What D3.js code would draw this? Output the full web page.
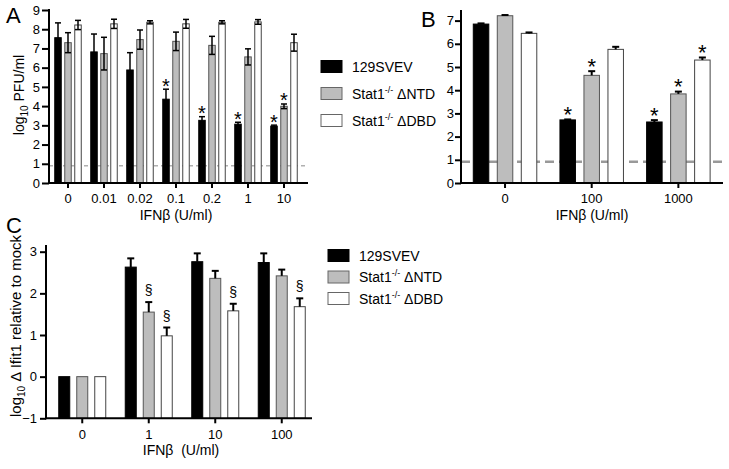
<!DOCTYPE html>
<html><head><meta charset="utf-8">
<script src="https://cdn.jsdelivr.net/npm/d3@7"></script>
<style>
body{margin:0;background:#fff;}
svg{display:block;font-family:"Liberation Sans",Arial,Helvetica,sans-serif;}
</style></head>
<body><svg id="chart" width="729" height="469"></svg>
<script>
// ---------- data ----------
const seriesNames = ["129SVEV", "Stat1", "Stat1"];
const seriesSuffix = ["", "ΔNTD", "ΔDBD"];

const doseA = ["0", "0.01", "0.02", "0.1", "0.2", "1", "10"];
const wtA = [7.56, 6.82, 5.88, 4.36, 3.26, 3.06, 2.96];
const wtAErr = [0.77, 0.93, 0.9, 0.52, 0.19, 0.1, 0.05];
const ntdA = [7.30, 6.73, 7.46, 7.37, 7.16, 6.56, 3.99];
const ntdAErr = [0.52, 0.85, 0.5, 0.48, 0.47, 0.42, 0.12];
const dbdA = [8.22, 8.28, 8.36, 8.28, 8.36, 8.38, 7.30];
const dbdAErr = [0.24, 0.24, 0.08, 0.23, 0.08, 0.12, 0.44];
const wtASig = [0, 0, 0, 1, 1, 1, 1];
const ntdASig = [0, 0, 0, 0, 0, 0, 1];
const dbdASig = [0, 0, 0, 0, 0, 0, 0];
const ticksA = [0, 1, 2, 3, 4, 5, 6, 7, 8, 9];
const limitA = 0.9;

const doseB = ["0", "100", "1000"];
const wtB = [6.85, 2.72, 2.63];
const wtBErr = [0.03, 0.02, 0.08];
const ntdB = [7.21, 4.64, 3.84];
const ntdBErr = [0.03, 0.18, 0.1];
const dbdB = [6.45, 5.76, 5.30];
const dbdBErr = [0.04, 0.11, 0.11];
const wtBSig = [0, 1, 1];
const ntdBSig = [0, 1, 1];
const dbdBSig = [0, 0, 1];
const ticksB = [0, 1, 2, 3, 4, 5, 6, 7];
const limitB = 0.92;

const doseC = ["0", "1", "10", "100"];
const wtC = [0, 2.63, 2.76, 2.74];
const wtCErr = [0, 0.21, 0.2, 0.22];
const ntdC = [0, 1.55, 2.36, 2.42];
const ntdCErr = [0, 0.24, 0.18, 0.15];
const dbdC = [0, 0.98, 1.58, 1.68];
const dbdCErr = [0, 0.2, 0.17, 0.2];
const wtCSig = [0, 0, 0, 0];
const ntdCSig = [0, 1, 0, 0];
const dbdCSig = [0, 1, 1, 1];
const ticksC = [-1, 0, 1, 2, 3];

// ---------- style ----------
const fills = ["#000000", "#bdbdbd", "#ffffff"];
const strokes = ["#000000", "#555555", "#444444"];

const svg = d3.select("#chart");

function drawPanel(p) {
  const g = svg.append("g");
  const x0 = d3.scaleBand().domain(p.cats).range(p.xRange);
  const bw = x0.bandwidth();
  const x1 = d3.scaleBand().domain([0, 1, 2])
    .range([bw / 2 - p.inner / 2, bw / 2 + p.inner / 2])
    .paddingInner(p.pi).paddingOuter(p.pi / 2);
  const y = d3.scaleLinear().domain(p.yDomain).range(p.yRange);

  if (p.limit != null) {
    g.append("line").attr("x1", p.axisX).attr("x2", p.xEnd)
      .attr("y1", y(p.limit)).attr("y2", y(p.limit))
      .attr("stroke", p.limitColor).attr("stroke-width", p.limitWidth)
      .attr("stroke-dasharray", p.limitDash);
  }

  p.series.forEach((vals, si) => {
    const errs = p.errs[si];
    const sig = p.sigs[si];
    const sg = g.append("g");
    p.cats.forEach((c, i) => {
      const xl = x0(c) + x1(si);
      const w = x1.bandwidth();
      const v = vals[i];
      const top = y(v), bot = y(p.base);
      sg.append("rect").attr("x", xl + 0.5).attr("y", top)
        .attr("width", w - 1).attr("height", Math.max(0, bot - top))
        .attr("fill", fills[si]).attr("stroke", strokes[si]).attr("stroke-width", 1);
      const cx = xl + w / 2;
      const e = errs[i];
      if (e > 0) {
        const yt = y(v + e), yb = p.bothErr ? y(v - e) : top;
        sg.append("line").attr("x1", cx).attr("x2", cx).attr("y1", yt).attr("y2", yb)
          .attr("stroke", "#000").attr("stroke-width", p.errW);
        sg.append("line").attr("x1", cx - p.cap / 2).attr("x2", cx + p.cap / 2)
          .attr("y1", yt).attr("y2", yt).attr("stroke", "#000").attr("stroke-width", p.errW);
        if (p.bothErr) {
          sg.append("line").attr("x1", cx - p.cap / 2).attr("x2", cx + p.cap / 2)
            .attr("y1", yb).attr("y2", yb).attr("stroke", "#000").attr("stroke-width", p.errW);
        }
      }
      if (sig[i]) {
        const yt = y(v + e);
        g.append("text").attr("x", cx).attr("y", yt + p.sigDy)
          .attr("text-anchor", "middle").attr("font-size", p.sigSize)
          .text(p.sigChar);
      }
    });
  });

  const yAx = g.append("g").attr("transform", `translate(${p.axisX},0)`)
    .call(d3.axisLeft(y).tickValues(p.ticks).tickFormat(d3.format("d"))
      .tickSize(p.yTick).tickPadding(p.yPad));
  yAx.select(".domain").remove();
  yAx.selectAll("line").attr("stroke-width", 2);
  yAx.selectAll("text").attr("font-size", 13).attr("font-family", "Liberation Sans, Arial, sans-serif");
  g.append("line").attr("x1", p.axisX).attr("x2", p.axisX)
    .attr("y1", y(p.yDomain[0]) + 1).attr("y2", p.axisTop)
    .attr("stroke", "#000").attr("stroke-width", 2);

  const xAx = g.append("g").attr("transform", `translate(0,${y(p.yDomain[0])})`)
    .call(d3.axisBottom(x0).tickSize(5).tickPadding(p.xPad));
  xAx.select(".domain").remove();
  xAx.selectAll("line").attr("stroke-width", 2);
  xAx.selectAll("text").attr("font-size", 13).attr("font-family", "Liberation Sans, Arial, sans-serif");
  g.append("line").attr("x1", p.axisX - 1).attr("x2", p.xEnd)
    .attr("y1", y(p.yDomain[0])).attr("y2", y(p.yDomain[0]))
    .attr("stroke", "#000").attr("stroke-width", 2);

  g.append("text").attr("x", p.xTitleX).attr("y", p.xTitleY).attr("text-anchor", "middle")
    .attr("font-size", 14).attr("xml:space", "preserve").text(p.xTitle);

  g.append("text").attr("x", p.letterX).attr("y", p.letterY)
    .attr("font-size", 22).text(p.letter);
  return g;
}

drawPanel({
  cats: doseA, xRange: [50, 302], inner: 30, pi: 0.25,
  yDomain: [0, 9], yRange: [183, 10], base: 0,
  series: [wtA, ntdA, dbdA], errs: [wtAErr, ntdAErr, dbdAErr], sigs: [wtASig, ntdASig, dbdASig],
  bothErr: true, errW: 1.5, cap: 6, sigChar: "*", sigSize: 20, sigDy: 3.5,
  ticks: ticksA, axisX: 49, axisTop: 9, xEnd: 308, yTick: 7, yPad: 2, xPad: 6,
  limit: limitA, limitColor: "#b0b0b0", limitWidth: 1.5, limitDash: "4,3",
  xTitle: "IFNβ (U/ml)", xTitleX: 176, xTitleY: 220, letter: "A", letterX: 6, letterY: 23
});

drawPanel({
  cats: doseB, xRange: [461.7, 721.7], inner: 72, pi: 0.3125,
  yDomain: [0, 7], yRange: [183, 20.6], base: 0,
  series: [wtB, ntdB, dbdB], errs: [wtBErr, ntdBErr, dbdBErr], sigs: [wtBSig, ntdBSig, dbdBSig],
  bothErr: false, errW: 2, cap: 7, sigChar: "*", sigSize: 22, sigDy: 2.5,
  ticks: ticksB, axisX: 461, axisTop: 10, xEnd: 723, yTick: 6, yPad: 1, xPad: 6,
  limit: limitB, limitColor: "#999999", limitWidth: 2.5, limitDash: "9,5",
  xTitle: "IFNβ (U/ml)", xTitleX: 592, xTitleY: 220, letter: "B", letterX: 421, letterY: 27
});

drawPanel({
  cats: doseC, xRange: [49, 315], inner: 54, pi: 1 / 3,
  yDomain: [-1, 3], yRange: [418.3, 251.7], base: -1,
  series: [wtC, ntdC, dbdC], errs: [wtCErr, ntdCErr, dbdCErr], sigs: [wtCSig, ntdCSig, dbdCSig],
  bothErr: false, errW: 2, cap: 7, sigChar: "§", sigSize: 14, sigDy: -7,
  ticks: ticksC, axisX: 46, axisTop: 245, xEnd: 312, yTick: 6, yPad: 3, xPad: 6,
  limit: null,
  xTitle: "IFNβ  (U/ml)", xTitleX: 181, xTitleY: 455, letter: "C", letterX: 6, letterY: 233
});

const ta = svg.append("text").attr("transform", "translate(24,95) rotate(-90)")
  .attr("text-anchor", "middle").attr("font-size", 14);
ta.append("tspan").text("log");
ta.append("tspan").attr("font-size", 10).attr("dy", 4).text("10");
ta.append("tspan").attr("dy", -4).text(" PFU/ml");

const tc = svg.append("text").attr("transform", "translate(21,326) rotate(-90)")
  .attr("text-anchor", "middle").attr("font-size", 15);
tc.append("tspan").text("log");
tc.append("tspan").attr("font-size", 10).attr("dy", 4).text("10");
tc.append("tspan").attr("dy", -4).text(" Δ Ifit1 relative to mock");

function legend(x, y0, step, tx) {
  const lg = svg.append("g");
  seriesNames.forEach((n, i) => {
    const yy = y0 + i * step;
    lg.append("rect").attr("x", x + 0.5).attr("y", yy + 0.5).attr("width", 21).attr("height", 12)
      .attr("fill", fills[i]).attr("stroke", i === 0 ? "#000" : "#666").attr("stroke-width", 1);
    const t = lg.append("text").attr("x", tx).attr("y", yy + 11.5).attr("font-size", 14);
    t.append("tspan").text(n);
    if (i > 0) {
      t.append("tspan").attr("font-size", 9).attr("dy", -6).text("-/-");
      t.append("tspan").attr("dy", 6).text(" " + seriesSuffix[i]);
    }
  });
}
legend(320.5, 60, 27, 352);
legend(327.5, 249, 21.5, 359);
</script></body></html>
